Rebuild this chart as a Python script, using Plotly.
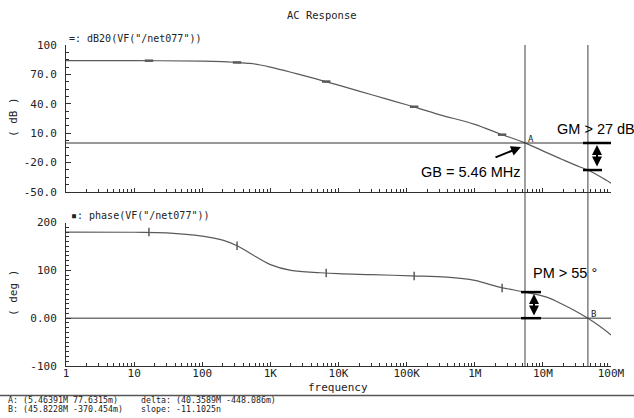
import numpy as np
import plotly.graph_objects as go

# ---------------- data ----------------
gain_freq = [1, 10, 100, 200, 300, 500, 710, 1e3, 2e3, 3e3, 5.4e3, 1e4, 2e4, 5e4, 1e5,
             3e5, 1e6, 2.3e6, 5.464e6, 11.4e6, 20e6, 35e6, 45.82e6, 70e6, 1e8]
gain_db = [84.0, 84.0, 83.6, 83.0, 82.3, 81.2, 79.6, 77.4, 72.2, 69.0, 64.2, 59.0, 53.0, 45.0,
           39.0, 29.0, 19.0, 9.5, 0.08, -9.8, -17.3, -24.5, -27.6, -34.5, -41.0]

phase_freq = [1, 10, 30, 100, 200, 336, 540, 1e3, 2e3, 5.4e3, 1e4, 3e4, 1.18e5, 3.92e5,
              1e6, 2.3e6, 5.464e6, 11.4e6, 20e6, 30e6, 45.82e6, 70e6, 1e8]
phase_deg = [180, 179.6, 178.3, 171.5, 163, 150.5, 133, 112, 100, 95, 93, 91, 88.5, 85.8,
             79, 65, 54.5, 44, 28, 15, -0.37, -18, -35]

marker_freq = [16.5, 324, 6.6e3, 1.29e5, 2.52e6]
marker_gain = [84.0, 82.2, 62.7, 37.0, 8.5]
marker_phase = [180, 151.5, 94.5, 88.0, 63.0]

cursor_a = 5.46391e6
cursor_b = 45.8228e6
gm_db = -27.6
pm_deg = 54.5

x_tickvals = [1, 10, 100, 1e3, 1e4, 1e5, 1e6, 1e7, 1e8]
x_ticktext = ["1", "10", "100", "1K", "10K", "100K", "1M", "10M", "100M"]
db_tickvals = [-50, -20, 10, 40, 70, 100]
db_ticktext = ["-50.0", "-20.0", "10.0", "40.0", "70.0", "100"]
deg_tickvals = [-100, 0, 100, 200]
deg_ticktext = ["-100", "0.00", "100", "200"]

# ---------------- layout geometry ----------------
W_FIG, H_FIG = 634, 418
L, R, T, B = 66, 23, 45, 52
PW, PH = W_FIG - L - R, H_FIG - T - B


def px(x):
    return (x - L) / PW


def py(y):
    return (T + PH - y) / PH


MONO = "DejaVu Sans Mono"
SANS = "Liberation Sans"
CURVE = "#5a5a5a"
AXC = "#303030"

fig = go.Figure()
fig.add_trace(go.Scatter(x=gain_freq, y=gain_db, mode="lines", line=dict(color=CURVE, width=1.2, shape="spline"),
                         xaxis="x", yaxis="y", showlegend=False))
fig.add_trace(go.Scatter(x=marker_freq, y=marker_gain, mode="markers",
                         marker=dict(symbol="line-ew", size=6, line=dict(color=CURVE, width=2.5)),
                         xaxis="x", yaxis="y", showlegend=False))
fig.add_trace(go.Scatter(x=phase_freq, y=phase_deg, mode="lines", line=dict(color=CURVE, width=1.2, shape="spline"),
                         xaxis="x2", yaxis="y2", showlegend=False))
fig.add_trace(go.Scatter(x=marker_freq, y=marker_phase, mode="markers",
                         marker=dict(symbol="line-ns", size=6, line=dict(color=CURVE, width=1.5)),
                         xaxis="x2", yaxis="y2", showlegend=False))

top_dom = [py(192), 1.0]
bot_dom = [0.0, py(222.5)]

xcommon = dict(type="log", range=[0, 8], showgrid=False, zeroline=False, showline=True,
               linecolor=AXC, linewidth=1, ticks="inside", ticklen=4, tickcolor=AXC,
               tickvals=x_tickvals, automargin=False,
               minor=dict(ticks="inside", ticklen=3, tickcolor=AXC, dtick="D1", showgrid=False))
ycommon = dict(showgrid=False, zeroline=False, showline=True, linecolor=AXC, linewidth=1,
               ticks="inside", ticklen=5, tickcolor=AXC, ticklabelstandoff=6, automargin=False,
               tickfont=dict(family=MONO, size=11, color="#222"))

fig.update_layout(
    width=W_FIG, height=H_FIG,
    margin=dict(l=L, r=R, t=T, b=B, autoexpand=False),
    paper_bgcolor="white", plot_bgcolor="white",
    xaxis=dict(**xcommon, domain=[0, 1], anchor="y", showticklabels=False),
    yaxis=dict(**ycommon, domain=top_dom, range=[-50, 100], anchor="x",
               tickvals=db_tickvals, ticktext=db_ticktext,
               minor=dict(ticks="inside", ticklen=3, tickcolor=AXC, dtick=7.5, tick0=-50)),
    xaxis2=dict(**xcommon, domain=[0, 1], anchor="y2", ticktext=x_ticktext, ticklabelstandoff=-3,
                tickfont=dict(family=MONO, size=11, color="#222")),
    yaxis2=dict(**ycommon, domain=bot_dom, range=[-100, 200], anchor="x2",
                tickvals=deg_tickvals, ticktext=deg_ticktext,
                minor=dict(ticks="inside", ticklen=3, tickcolor=AXC, dtick=10, tick0=-100)),
)

shapes = []
# zero reference lines
shapes.append(dict(type="line", xref="x domain", yref="y", x0=0, x1=1, y0=0, y1=0,
                   line=dict(color=AXC, width=1)))
shapes.append(dict(type="line", xref="x2 domain", yref="y2", x0=0, x1=1, y0=0, y1=0,
                   line=dict(color=AXC, width=1)))
# cursors
for c in (cursor_a, cursor_b):
    shapes.append(dict(type="line", xref="x2", yref="paper", x0=c, x1=c, y0=0, y1=1,
                       line=dict(color="#404040", width=1)))
# GM bracket
shapes.append(dict(type="line", xref="paper", yref="y", x0=px(583), x1=px(611), y0=0, y1=0,
                   line=dict(color="black", width=2.5)))
shapes.append(dict(type="line", xref="paper", yref="y", x0=px(583), x1=px(602), y0=gm_db, y1=gm_db,
                   line=dict(color="black", width=2.5)))
# PM bracket
shapes.append(dict(type="line", xref="paper", yref="y2", x0=px(521), x1=px(541), y0=pm_deg, y1=pm_deg,
                   line=dict(color="black", width=2.5)))
shapes.append(dict(type="line", xref="paper", yref="y2", x0=px(521), x1=px(541), y0=0, y1=0,
                   line=dict(color="black", width=2.5)))
# separator line above cursor readout
shapes.append(dict(type="line", xref="paper", yref="paper", x0=px(0), x1=px(634), y0=py(395.5), y1=py(395.5),
                   line=dict(color="#555", width=1.5)))
fig.update_layout(shapes=shapes)

ann = []


def txt(x, y, s, size=10, family=MONO, xanchor="left", color="#222", angle=0):
    ann.append(dict(xref="paper", yref="paper", x=px(x), y=py(y), text=s, showarrow=False,
                    xanchor=xanchor, yanchor="middle", textangle=angle,
                    font=dict(family=family, size=size, color=color)))


txt(322, 15, "AC Response", size=10.5, xanchor="center")
txt(67, 38, "=: dB20(VF(\"/net077\"))", size=10)
txt(69, 215, "▪: phase(VF(\"/net077\"))", size=10)
txt(13, 117, "( dB )", size=11, xanchor="center", angle=-90)
txt(13, 293, "( deg )", size=11, xanchor="center", angle=-90)
txt(338, 387.5, "frequency", size=11, xanchor="center")
txt(6, 400, "A: (5.46391M 77.6315m)", size=8.3)
txt(6, 409, "B: (45.8228M -370.454m)", size=8.3)
txt(139, 400, "delta: (40.3589M -448.086m)", size=8.3)
txt(139, 409, "slope: -11.1025n", size=8.3)
txt(531, 139, "A", size=9, xanchor="center")
txt(593, 314, "B", size=9, xanchor="center")
txt(471, 172, "GB = 5.46 MHz", size=14.5, family=SANS, xanchor="center", color="black")
txt(555, 129, "GM > 27 dB", size=14.5, family=SANS, color="black")
txt(531, 273, "PM > 55 °", size=14.5, family=SANS, color="black")

# arrows
ann.append(dict(xref="paper", yref="paper", x=px(521), y=py(147), ax=-27, ay=11, text="",
                showarrow=True, arrowhead=2, arrowsize=1, arrowwidth=2, arrowcolor="black"))
ann.append(dict(xref="paper", yref="paper", x=px(597), y=py(145), ax=0, ay=23, text="",
                showarrow=True, arrowhead=2, arrowside="end+start", arrowsize=1, arrowwidth=2,
                arrowcolor="black"))
ann.append(dict(xref="paper", yref="paper", x=px(534), y=py(294), ax=0, ay=23, text="",
                showarrow=True, arrowhead=2, arrowside="end+start", arrowsize=1, arrowwidth=2,
                arrowcolor="black"))
fig.update_layout(annotations=ann)

fig.write_html("out.html", config={"displayModeBar": False},
               post_script="document.body.style.margin='0';document.body.style.padding='0';")
